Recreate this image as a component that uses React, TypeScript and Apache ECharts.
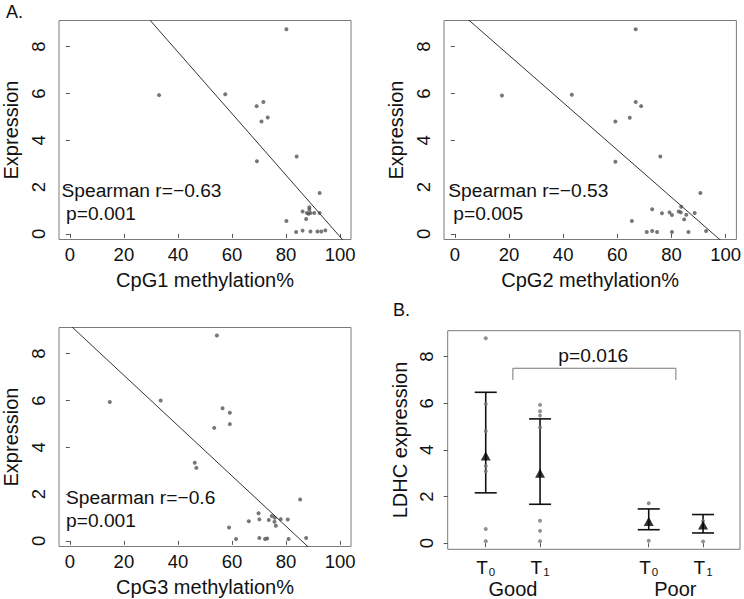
import React, { useEffect, useRef } from "react";
import * as echarts from "echarts";

const FONT = "'Liberation Sans', Arial, Helvetica, sans-serif";

// ---------- Data ----------
const X_TICKS = [0, 20, 40, 60, 80, 100];
const Y_TICKS = [0, 2, 4, 6, 8];

const cpg1X = [80.1, 33.0, 57.5, 69.1, 71.6, 70.9, 73.2, 69.2, 83.9, 92.4, 88.6, 88.6, 86.1, 87.7, 88.3, 89.0, 90.4, 92.4, 87.4, 80.1, 83.7, 86.1, 89.0, 91.6, 93.0, 94.5];
const cpg1Y = [8.75, 5.93, 5.97, 5.46, 5.64, 4.8, 4.97, 3.1, 3.31, 1.75, 1.14, 1.04, 0.96, 0.89, 0.86, 0.89, 0.89, 0.89, 0.64, 0.55, 0.08, 0.14, 0.1, 0.1, 0.1, 0.15];

const cpg2X = [66.8, 17.4, 43.2, 66.8, 68.8, 59.3, 64.6, 59.3, 75.9, 90.7, 72.9, 76.5, 79.3, 80.2, 83.6, 82.7, 83.5, 85.5, 84.7, 88.6, 65.4, 70.9, 72.9, 74.7, 80.2, 86.3, 92.8];
const cpg2Y = [8.75, 5.91, 5.95, 5.64, 5.46, 4.8, 4.96, 3.08, 3.31, 1.75, 1.05, 0.88, 0.92, 0.81, 1.16, 0.96, 0.92, 0.82, 0.62, 0.89, 0.55, 0.08, 0.12, 0.08, 0.08, 0.08, 0.12];

const cpg3X = [54.4, 14.8, 33.6, 56.5, 59.2, 53.4, 59.2, 46.2, 46.8, 85.2, 69.8, 66.2, 70.1, 73.6, 74.7, 75.8, 75.7, 76.2, 78.0, 80.6, 58.9, 61.5, 70.1, 72.2, 73.0, 80.9, 87.4];
const cpg3Y = [8.78, 5.94, 6.0, 5.67, 5.48, 4.83, 4.99, 3.34, 3.12, 1.77, 1.18, 0.84, 0.92, 0.89, 1.06, 0.99, 0.82, 0.65, 0.93, 0.91, 0.57, 0.08, 0.12, 0.08, 0.1, 0.08, 0.12];

// regression lines: intercept, slope
const fitIntercept = [13.04, 9.66, 9.23];
const fitSlope = [-0.1317, -0.1012, -0.1076];

const statsR = ["Spearman r=\u22120.63", "Spearman r=\u22120.53", "Spearman r=\u22120.6"];
const statsP = ["p=0.001", "p=0.005", "p=0.001"];
const xTitles = ["CpG1 methylation%", "CpG2 methylation%", "CpG3 methylation%"];

// Panel B
const groupPos = [1, 2, 4, 5];
const groupSub = ["0", "1", "0", "1"];
const goodT0 = [8.79, 5.97, 4.81, 3.31, 3.09, 0.61, 0.09];
const goodT1 = [5.93, 5.66, 5.47, 4.96, 0.96, 0.53, 0.09];
const poorT0 = [1.71, 0.95, 0.11];
const poorT1 = [0.95, 0.07];
const groupMean = [3.74, 3.0, 0.93, 0.78];
const groupLo = [2.16, 1.67, 0.58, 0.44];
const groupHi = [6.47, 5.33, 1.47, 1.23];
const bracket = [[1.5, 7.0], [1.5, 7.5], [4.5, 7.5], [4.5, 7.0]];

const grids = [
  { left: 57, top: 20.5, width: 294, height: 219 },
  { left: 444, top: 20.5, width: 294, height: 219 },
  { left: 57, top: 327.5, width: 294, height: 219 },
  { left: 447.7, top: 330.7, width: 292.3, height: 218.6 },
];
const xMins = [-4, -4, -4, 0.3];

export default function App() {
  const ref = useRef<HTMLDivElement>(null);
  useEffect(() => {
    if (!ref.current) return;
    const chart = echarts.init(ref.current, undefined, { renderer: "svg" });

    const tickStyle = { color: "#555", width: 1 };
    const labelStyle = { fontSize: 18.5, color: "#111", fontFamily: FONT };
    const nameStyle = { fontSize: 20, color: "#111", fontFamily: FONT };

    const xAxes: any[] = [];
    const yAxes: any[] = [];
    const series: any[] = [];
    const scatterSets = [
      [cpg1X, cpg1Y],
      [cpg2X, cpg2Y],
      [cpg3X, cpg3Y],
    ];

    for (let i = 0; i < 3; i++) {
      xAxes.push({
        gridIndex: i, type: "value", min: -4, max: 104,
        axisLine: { show: false },
        axisTick: { show: true, customValues: X_TICKS, length: 4, lineStyle: tickStyle },
        axisLabel: { customValues: X_TICKS, margin: 5, ...labelStyle },
        splitLine: { show: false },
        name: xTitles[i], nameLocation: "middle", nameGap: 30, nameTextStyle: nameStyle,
      });
      yAxes.push({
        gridIndex: i, type: "value", min: -0.24, max: 9.12,
        axisLine: { show: false },
        axisTick: { show: true, customValues: Y_TICKS, length: 4, lineStyle: tickStyle },
        axisLabel: { show: false },
        splitLine: { show: false },
        name: "Expression", nameLocation: "middle", nameGap: 38, nameTextStyle: nameStyle,
      });
      const [xs, ys] = scatterSets[i];
      series.push({
        type: "scatter", xAxisIndex: i, yAxisIndex: i,
        data: xs.map((x, k) => [x, ys[k]]),
        symbolSize: 4, itemStyle: { color: "#555" },
      });
      series.push({
        type: "line", xAxisIndex: i, yAxisIndex: i, clip: true, showSymbol: false,
        data: [-4, 104].map((x) => [x, fitIntercept[i] + fitSlope[i] * x]),
        lineStyle: { color: "#333", width: 1 },
      });
    }

    // Panel B
    xAxes.push({
      gridIndex: 3, type: "value", min: 0.3, max: 5.68,
      axisLine: { show: false },
      axisTick: { show: true, customValues: groupPos, length: 4, lineStyle: tickStyle },
      axisLabel: {
        customValues: groupPos, margin: 7,
        formatter: (v: number) => "T{s|" + groupSub[groupPos.indexOf(v)] + "}",
        fontSize: 19, color: "#111", fontFamily: FONT,
        rich: { s: { fontSize: 11.5, color: "#111", fontFamily: FONT, verticalAlign: "bottom", padding: [10, 0, 0, 1] } },
      },
      splitLine: { show: false },
    });
    yAxes.push({
      gridIndex: 3, type: "value", min: -0.26, max: 9.11,
      axisLine: { show: false },
      axisTick: { show: true, customValues: Y_TICKS, length: 4, lineStyle: tickStyle },
      axisLabel: { show: false },
      splitLine: { show: false },
      name: "LDHC expression", nameLocation: "middle", nameGap: 38, nameTextStyle: nameStyle,
    });
    const groups = [goodT0, goodT1, poorT0, poorT1];
    const pts: number[][] = [];
    groups.forEach((g, gi) => g.forEach((v) => pts.push([groupPos[gi], v])));
    series.push({
      type: "scatter", xAxisIndex: 3, yAxisIndex: 3, data: pts,
      symbolSize: 4, itemStyle: { color: "#777" },
    });
    series.push({
      type: "custom", xAxisIndex: 3, yAxisIndex: 3,
      data: groupPos.map((x, k) => [x, groupLo[k], groupHi[k]]),
      encode: { x: 0, y: [1, 2] },
      renderItem: (_p: any, api: any) => {
        const x = api.value(0);
        const lo = api.coord([x, api.value(1)]);
        const hi = api.coord([x, api.value(2)]);
        const hw = 11;
        const st = { stroke: "#111", lineWidth: 1.6 };
        return {
          type: "group",
          children: [
            { type: "line", shape: { x1: lo[0], y1: lo[1], x2: hi[0], y2: hi[1] }, style: st },
            { type: "line", shape: { x1: lo[0] - hw, y1: lo[1], x2: lo[0] + hw, y2: lo[1] }, style: st },
            { type: "line", shape: { x1: hi[0] - hw, y1: hi[1], x2: hi[0] + hw, y2: hi[1] }, style: st },
          ],
        };
      },
    });
    series.push({
      type: "scatter", xAxisIndex: 3, yAxisIndex: 3,
      data: groupPos.map((x, k) => [x, groupMean[k]]),
      symbol: "triangle", symbolSize: [10, 9], itemStyle: { color: "#000" },
    });
    series.push({
      type: "line", xAxisIndex: 3, yAxisIndex: 3, showSymbol: false,
      data: bracket, lineStyle: { color: "#777", width: 1 },
    });

    const txt = (x: number, y: number, text: string, size = 19.2, align = "left") => ({
      type: "text", x, y,
      style: { text, fontSize: size, fontFamily: FONT, fill: "#111", textAlign: align, textVerticalAlign: "middle" },
    });

    const baseGraphic: any[] = [
      txt(6, 12, "A.", 18),
      txt(393, 310, "B.", 18),
      txt(61.5, 190.7, statsR[0]),
      txt(66, 213.3, statsP[0]),
      txt(448.3, 190.7, statsR[1]),
      txt(453.3, 213.3, statsP[1]),
      txt(66, 497.3, statsR[2]),
      txt(66, 520, statsP[2]),
      txt(593.3, 355.7, "p=0.016", 19.2, "center"),
      txt(513, 589, "Good", 20, "center"),
      txt(675.3, 589, "Poor", 20, "center"),
    ];

    chart.setOption({
      animation: false,
      grid: grids.map((g) => ({ ...g, show: true, borderColor: "#7a7a7a", borderWidth: 1, backgroundColor: "transparent" })),
      xAxis: xAxes,
      yAxis: yAxes,
      series,
      graphic: baseGraphic,
    });

    // rotated y tick labels, positioned through the axis scales
    const yTickTexts: any[] = [];
    for (let i = 0; i < 4; i++) {
      Y_TICKS.forEach((v) => {
        const p = chart.convertToPixel({ gridIndex: i } as any, [xMins[i], v]) as number[];
        if (!p) return;
        yTickTexts.push({
          type: "text", x: p[0] - 21, y: p[1], rotation: Math.PI / 2,
          style: { text: String(v), fontSize: 18.5, fontFamily: FONT, fill: "#111", textAlign: "center", textVerticalAlign: "middle" },
        });
      });
    }
    chart.setOption({ graphic: [...baseGraphic, ...yTickTexts] });

    return () => chart.dispose();
  }, []);
  return <div ref={ref} style={{ position: "absolute", left: 0, top: 0, width: 744, height: 599, background: "#fff" }} />;
}
